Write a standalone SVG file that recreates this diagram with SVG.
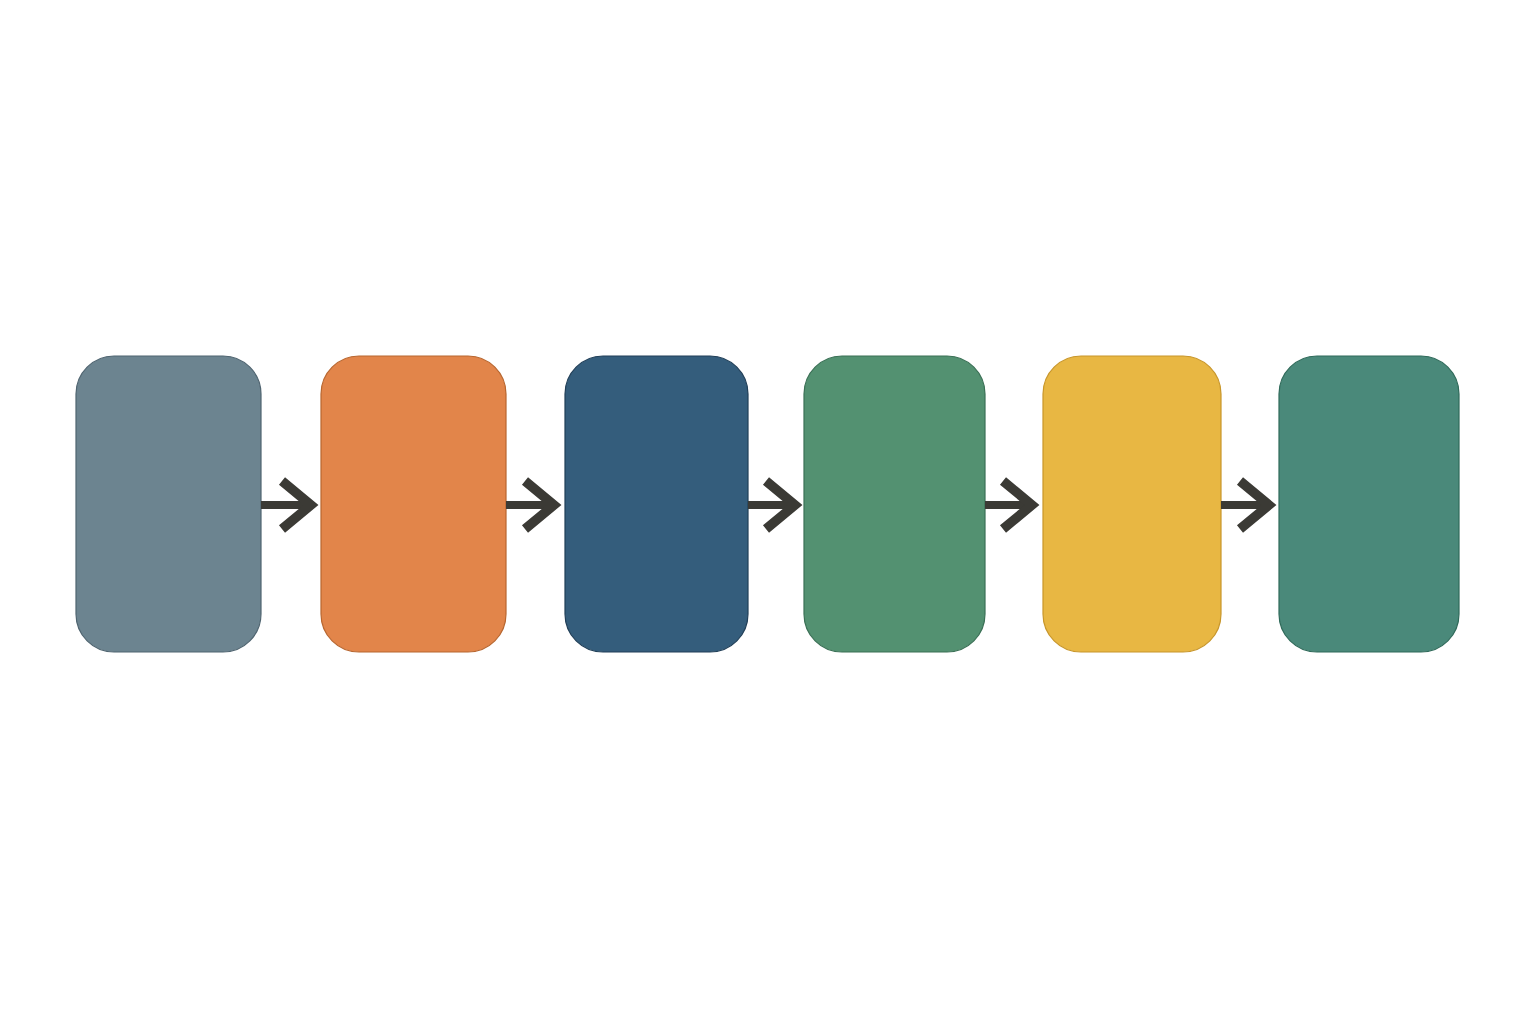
<svg xmlns="http://www.w3.org/2000/svg" width="1536" height="1024" viewBox="0 0 1536 1024">
<style>
.box{stroke-width:1.2}
.shaft{stroke:#3b3a35;stroke-width:8;fill:none}
.head{stroke:#3b3a35;stroke-width:9.5;fill:none;stroke-linejoin:miter;stroke-miterlimit:10}
</style>
<rect width="1536" height="1024" fill="#ffffff"/>
<g id="node1"><rect class="box" x="76" y="356" width="185" height="296" rx="38" fill="#6c8490" stroke="#4f6470"/></g>
<g id="node2"><rect class="box" x="321" y="356" width="185" height="296" rx="38" fill="#e2854a" stroke="#b8662f"/></g>
<g id="node3"><rect class="box" x="565" y="356" width="183" height="296" rx="38" fill="#345d7c" stroke="#213f58"/></g>
<g id="node4"><rect class="box" x="804" y="356" width="181" height="296" rx="38" fill="#539171" stroke="#3a7055"/></g>
<g id="node5"><rect class="box" x="1043" y="356" width="178" height="296" rx="38" fill="#e8b743" stroke="#c8962a"/></g>
<g id="node6"><rect class="box" x="1279" y="356" width="180" height="296" rx="38" fill="#4a897a" stroke="#2f6a5a"/></g>
<g id="connectors">
<path class="shaft" d="M261 505H310"/><polyline class="head" points="282,481 311,505 282,529"/>
<path class="shaft" d="M506 505H553"/><polyline class="head" points="525,481 554,505 525,529"/>
<path class="shaft" d="M748 505H795"/><polyline class="head" points="766,481 795,505 766,529"/>
<path class="shaft" d="M985 505H1032"/><polyline class="head" points="1003,481 1032,505 1003,529"/>
<path class="shaft" d="M1221 505H1269"/><polyline class="head" points="1240,481 1269,505 1240,529"/>
</g>
</svg>
